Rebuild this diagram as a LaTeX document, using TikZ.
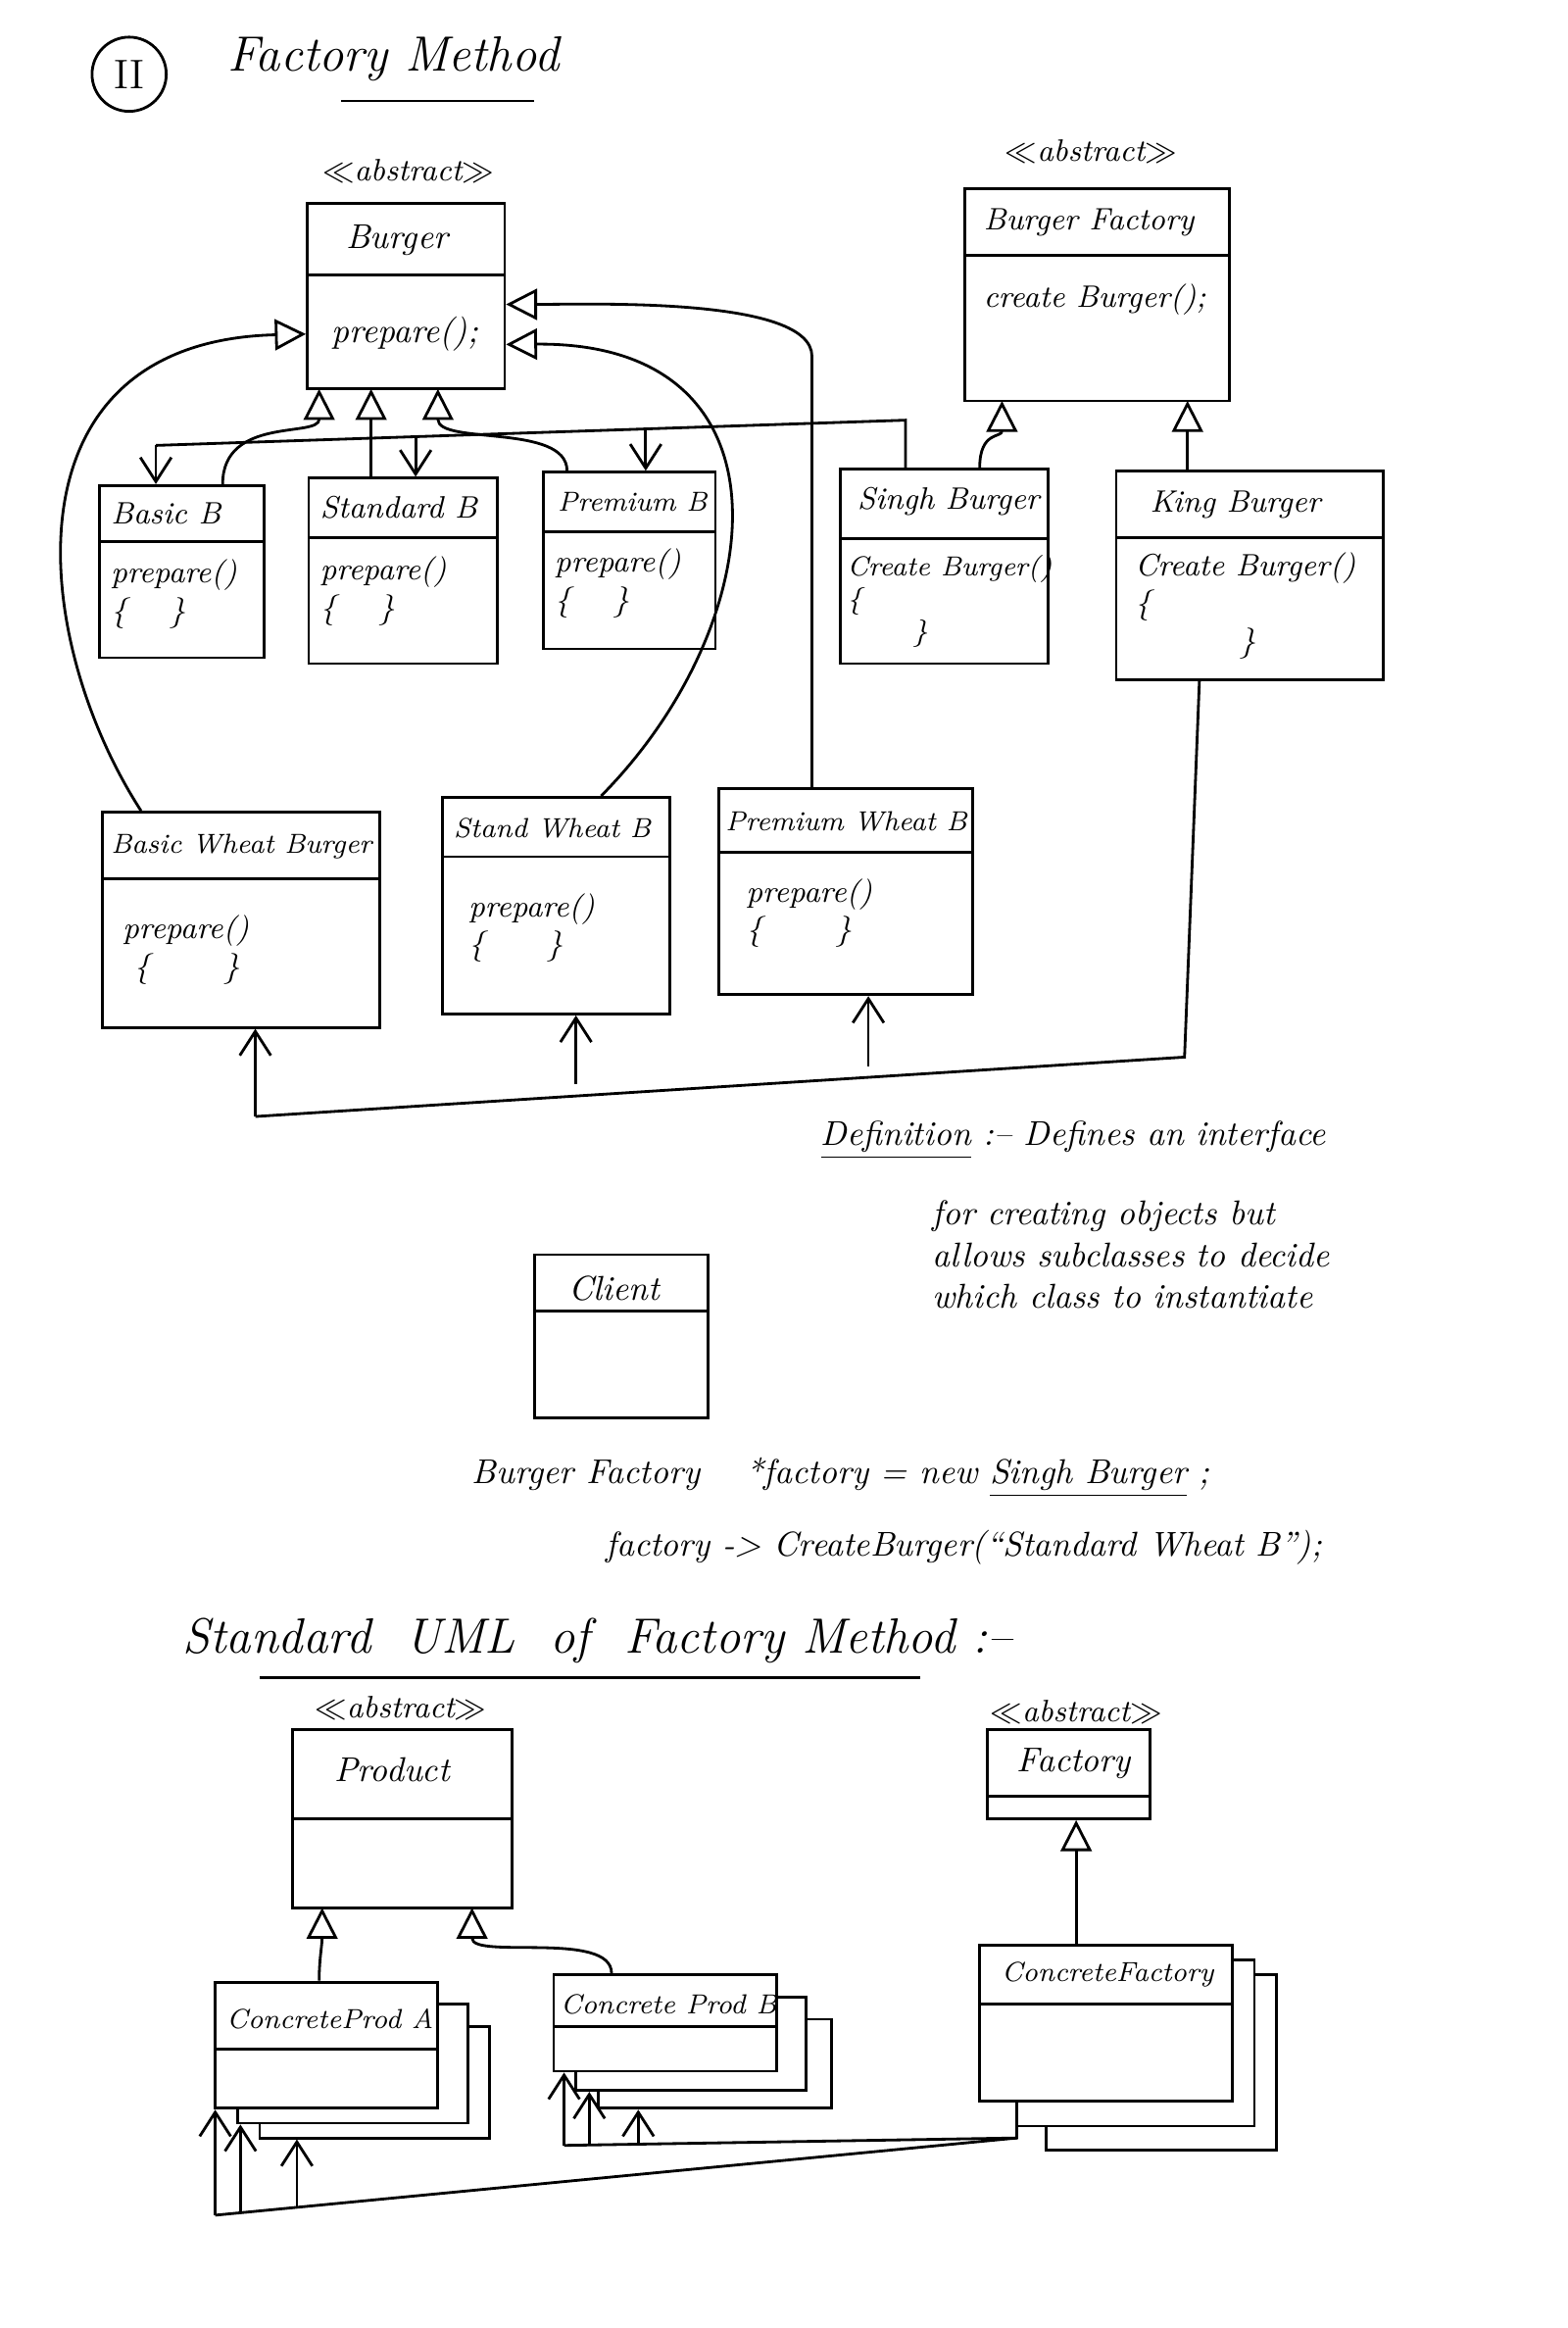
\documentclass[tikz,border=0pt]{standalone}
\usepackage{tikz}
\usetikzlibrary{arrows.meta}
\usetikzlibrary{fit}
\tikzset{
  umlbox/.style={draw,thick,fill=white,inner sep=0pt},
  hand/.style={font=\itshape\normalsize,anchor=west},
  small/.style={font=\itshape\small,anchor=west,inner sep=1pt},
  tiny/.style={font=\itshape\footnotesize,anchor=west,inner sep=1pt},
  inherit/.style={-{Triangle[open,length=9pt,width=9pt]},thick},
  uses/.style={-{Straight Barb[length=7pt,width=9pt]},thick},
}
% class box: name, x1, y1, x2, y2, divider y
\newcommand{\umlclass}[6]{%
  \node[umlbox,fit={(#2,#3)(#4,#5)}] (#1) {};
  \draw[thick] (#2,#6) -- (#4,#6);}
\begin{document}
\begin{tikzpicture}[x=0.01515cm,y=-0.01515cm]
\useasboundingbox (0,0) rectangle (1056,1568);

% title
\draw[thick] (87,50) circle (25);
\node[font=\large] (two) at (87,50) {II};
\node[font=\itshape\Large] (title) at (265,40) {Factory Method};
\draw[thick] (230,68) -- (360,68);

% burger side
\node[small,anchor=center] (abs1) at (275,115) {$\ll$abstract$\gg$};
\umlclass{burger}{207}{137}{340}{262}{185}
\node[hand] at (225,162) {Burger};
\node[hand] at (215,225) {prepare();};

\node[small,anchor=center] (abs2) at (735,102) {$\ll$abstract$\gg$};
\umlclass{bfactory}{650}{127}{828}{270}{172}
\node[small] at (660,150) {Burger Factory};
\node[small] at (660,202) {create Burger();};

\umlclass{basicb}{67}{327}{178}{443}{365}
\node[small] at (72,346) {Basic B};
\node[small,align=left] at (72,400) {prepare()\\\{\quad\ \}};
\umlclass{standardb}{208}{322}{335}{447}{362}
\node[small] at (213,342) {Standard B};
\node[small,align=left] at (213,398) {prepare()\\\{\quad\ \}};
\umlclass{premiumb}{366}{318}{482}{437}{358}
\node[tiny] at (373,338) {Premium B};
\node[small,align=left] at (371,393) {prepare()\\\{\quad\ \}};
\umlclass{singh}{566}{316}{706}{447}{363}
\node[small] at (575,338) {Singh Burger};
\node[tiny,align=left] at (568,405) {Create Burger()\\\{\\\qquad\ \}};
\umlclass{king}{752}{317}{932}{458}{362}
\node[small] at (772,340) {King Burger};
\node[small,align=left] at (762,408) {Create Burger()\\\{\\\qquad\quad\ \}};

\umlclass{basicw}{69}{547}{256}{692}{592}
\node[tiny] at (72,570) {Basic Wheat Burger};
\node[small,align=left] at (80,640) {prepare()\\\ \{\qquad\ \}};
\umlclass{standw}{298}{537}{451}{683}{577}
\node[tiny] at (303,558) {Stand Wheat B};
\node[small,align=left] at (313,625) {prepare()\\\{\qquad\}};
\umlclass{premw}{484}{531}{655}{670}{574}
\node[tiny] at (486,553) {Premium Wheat B};
\node[small,align=left] at (500,615) {prepare()\\\{\qquad\ \}};

% inheritance
\draw[inherit] (basicb.north -| 150,0) .. controls (150,280) and (215,295) .. (215,262);
\draw[inherit] (standardb.north -| 250,0) -- (250,262);
\draw[inherit] (premiumb.north -| 382,0) .. controls (382,285) and (295,300) .. (295,262);
\draw[inherit] (singh.north -| 660,0) .. controls (660,290) and (675,295) .. (675,270);
\draw[inherit] (king.north -| 800,0) .. controls (800,295) and (800,290) .. (800,270);
\draw[inherit] (basicw.north -| 95,0) .. controls (20,430) and (0,230) .. (burger.west |- 0,225);
\draw[inherit] (standw.north -| 405,0) .. controls (520,420) and (540,230) .. (burger.east |- 0,232);
\draw[inherit] (premw.north -| 547,0) -- (547,240) .. controls (547,200) and (400,205) .. (burger.east |- 0,205);

% creates
\draw[thick] (singh.north -| 610,0) -- (610,283) -- (105,300);
\draw[uses] (105,300) -- (basicb.north -| 105,0);
\draw[uses] (280,295) -- (standardb.north -| 280,0);
\draw[uses] (435,290) -- (premiumb.north -| 435,0);
\draw[thick] (king.south -| 808,0) -- (798,712) -- (172,752);
\draw[uses] (172,752) -- (basicw.south -| 172,0);
\draw[uses] (388,730) -- (standw.south -| 388,0);
\draw[uses] (585,718) -- (premw.south -| 585,0);

% definition
\node[hand] (defn) at (545,768) {\underline{Definition} :-- Defines an interface};
\node[hand,align=left] (defbody) at (620,845) {for creating objects but\\allows subclasses to decide\\which class to instantiate};

\umlclass{client}{360}{845}{477}{955}{883}
\node[hand] at (375,868) {Client};

\node[hand] (code1) at (310,995) {Burger Factory \quad *factory = new \underline{Singh Burger} ;};
\node[hand] (code2) at (400,1042) {factory -> CreateBurger(``Standard Wheat B'');};

% standard uml
\node[hand,font=\itshape\Large] (std) at (115,1105) {Standard \ UML \ of \ Factory Method :--};
\draw[thick] (175,1130) -- (620,1130);

\node[small,anchor=center] (abs3) at (270,1150) {$\ll$abstract$\gg$};
\umlclass{product}{197}{1165}{345}{1285}{1225}
\node[hand] at (217,1192) {Product};
\node[small,anchor=center] (abs4) at (725,1153) {$\ll$abstract$\gg$};
\umlclass{factory}{665}{1165}{775}{1225}{1210}
\node[hand] at (677,1188) {Factory};

\node[umlbox,fit={(175,1365)(330,1440)}] (proda3) {};
\node[umlbox,fit={(160,1350)(315,1430)}] (proda2) {};
\umlclass{proda}{145}{1335}{295}{1420}{1380}
\node[tiny] at (150,1360) {ConcreteProd A};
\node[umlbox,fit={(403,1360)(560,1420)}] (prodb3) {};
\node[umlbox,fit={(388,1345)(543,1408)}] (prodb2) {};
\umlclass{prodb}{373}{1330}{523}{1395}{1365}
\node[tiny] at (375,1350) {Concrete Prod B};
\node[umlbox,fit={(705,1330)(860,1448)}] (cfactory3) {};
\node[umlbox,fit={(685,1320)(845,1432)}] (cfactory2) {};
\umlclass{cfactory}{660}{1310}{830}{1415}{1350}
\node[tiny] at (672,1330) {ConcreteFactory};

\draw[inherit] (proda.north -| 215,0) .. controls (215,1320) and (217,1310) .. (217,1285);
\draw[inherit] (prodb.north -| 412,0) .. controls (412,1300) and (318,1320) .. (318,1285);
\draw[inherit] (cfactory.north -| 725,0) -- (factory.south -| 725,0);

\draw[thick] (cfactory.south -| 685,0) -- (685,1440) -- (145,1492);
\draw[uses] (145,1492) -- (proda.south -| 145,0);
\draw[uses] (162,1490) -- (proda2.south -| 162,0);
\draw[uses] (200,1487) -- (proda3.south -| 200,0);
\draw[thick] (685,1440) -- (380,1445);
\draw[uses] (380,1445) -- (prodb.south -| 380,0);
\draw[uses] (397,1445) -- (prodb2.south -| 397,0);
\draw[uses] (430,1444) -- (prodb3.south -| 430,0);
\end{tikzpicture}
\end{document}
